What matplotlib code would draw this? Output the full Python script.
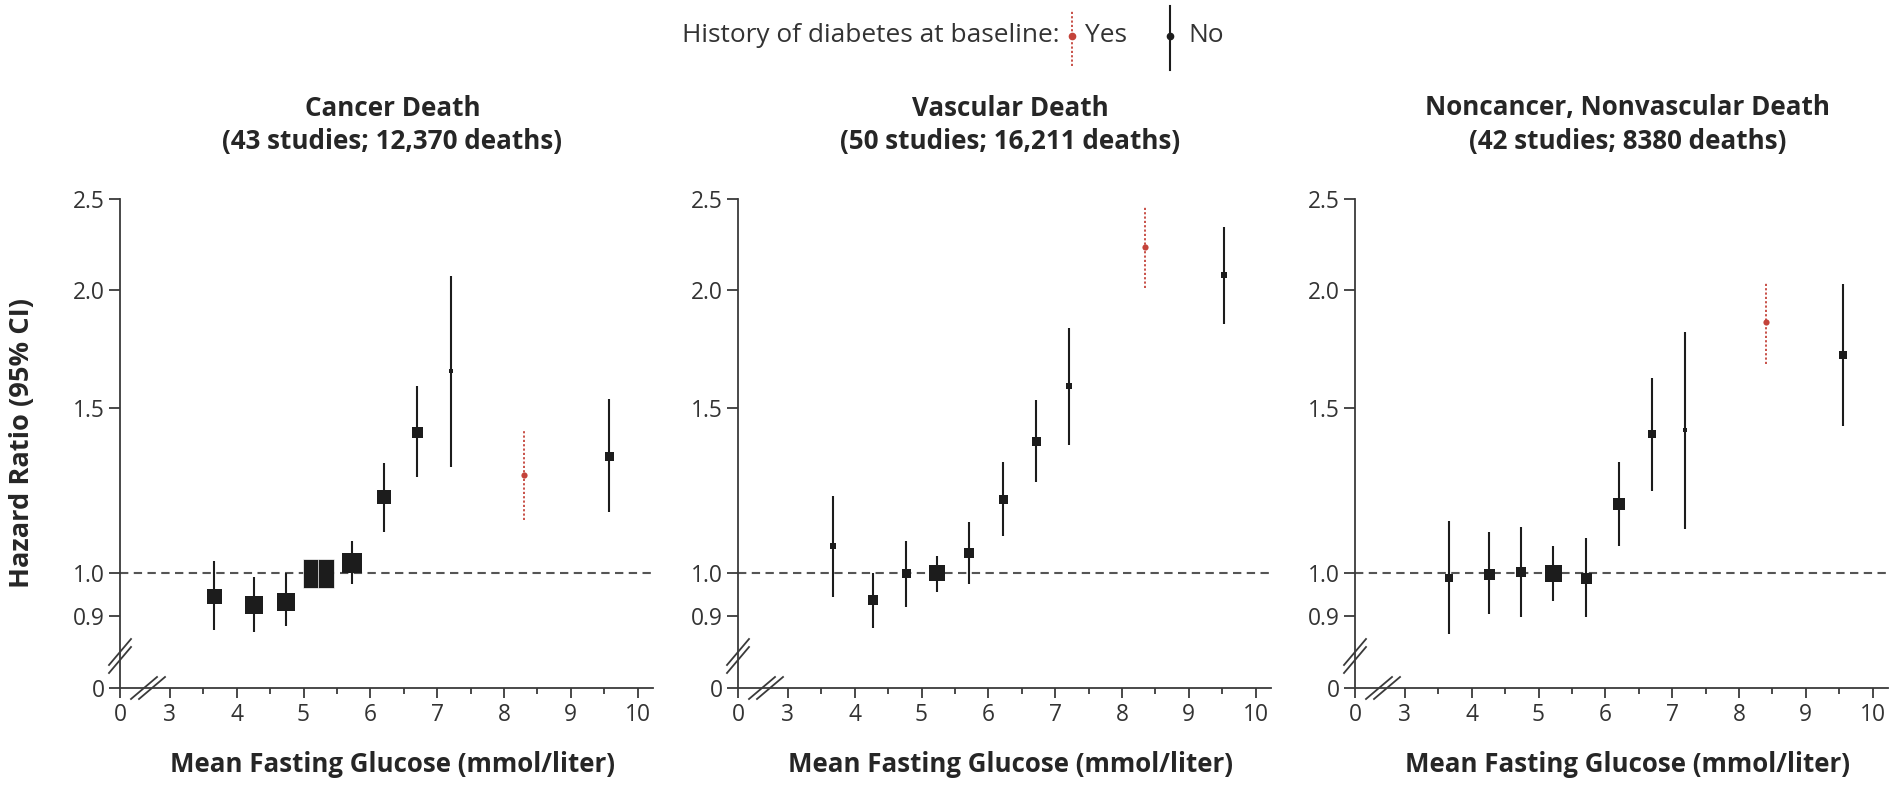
import numpy as np
import matplotlib
matplotlib.use("Agg")
import matplotlib.pyplot as plt
from matplotlib.lines import Line2D
from matplotlib.ticker import NullLocator

plt.rcParams['font.family'] = ['Open Sans', 'DejaVu Sans']

# ---- data (hazard ratio, 95% CI) ----
titles = ["Cancer Death", "Vascular Death", "Noncancer, Nonvascular Death"]
subtitles = ["(43 studies; 12,370 deaths)", "(50 studies; 16,211 deaths)",
             "(42 studies; 8380 deaths)"]

cancer_x = [3.66, 4.26, 4.74, 5.11, 5.33, 5.72, 6.20, 6.70, 7.21, 9.57]
cancer_hr = [0.946, 0.926, 0.933, 1.00, 1.00, 1.026, 1.204, 1.413, 1.640, 1.334]
cancer_lo = [0.871, 0.865, 0.878, 0.975, 0.975, 0.973, 1.107, 1.267, 1.298, 1.162]
cancer_hi = [1.031, 0.990, 1.000, 1.025, 1.025, 1.083, 1.310, 1.582, 2.068, 1.532]
cancer_w = [15, 17.5, 17.5, 29, 29, 20, 13.5, 11, 5, 9]

vasc_x = [3.67, 4.28, 4.76, 5.23, 5.71, 6.22, 6.71, 7.20, 9.53]
vasc_hr = [1.068, 0.937, 1.00, 1.00, 1.050, 1.199, 1.382, 1.582, 2.074]
vasc_lo = [0.944, 0.875, 0.921, 0.956, 0.974, 1.096, 1.249, 1.369, 1.839]
vasc_hi = [1.207, 1.000, 1.083, 1.044, 1.134, 1.314, 1.529, 1.825, 2.333]
vasc_w = [6.5, 10, 9, 16, 10, 9, 9, 6, 6]

other_x = [3.66, 4.26, 4.74, 5.22, 5.71, 6.20, 6.70, 7.19, 9.56]
other_hr = [0.988, 0.998, 1.004, 1.00, 0.988, 1.184, 1.406, 1.420, 1.705]
other_lo = [0.861, 0.904, 0.899, 0.935, 0.899, 1.070, 1.222, 1.114, 1.433]
other_hi = [1.136, 1.107, 1.121, 1.068, 1.089, 1.314, 1.613, 1.806, 2.028]
other_w = [8.6, 11, 9.4, 17, 11, 11.7, 8, 5, 8]

# history of diabetes = yes (one point per panel)
diab_x = [8.30, 8.34, 8.40]
diab_hr = [1.271, 2.225, 1.851]
diab_lo = [1.139, 2.012, 1.669]
diab_hi = [1.415, 2.459, 2.040]

panels = [
    (cancer_x, cancer_hr, cancer_lo, cancer_hi, cancer_w),
    (vasc_x, vasc_hr, vasc_lo, vasc_hi, vasc_w),
    (other_x, other_hr, other_lo, other_hi, other_w),
]

y_ticks = [0.9, 1.0, 1.5, 2.0, 2.5]
y_labels = ["0.9", "1.0", "1.5", "2.0", "2.5"]
x_ticks = [3, 4, 5, 6, 7, 8, 9, 10]

# axis geometry
Y_ZERO = 0.755     # where the "0" label sits (broken axis)
X_ZERO = 2.253
X_MAX = 10.23

W, H = 1891, 788
fig = plt.figure(figsize=(W / 100, H / 100), dpi=100)
renderer = fig.canvas.get_renderer()


def fit_width(t, target_px):
    # scale a text so its rendered width matches the reference
    w = t.get_window_extent(renderer).width
    t.set_fontsize(t.get_fontsize() * target_px / w)
    return t.get_fontsize()


probe = fig.text(0, 0, "2.5", fontsize=16)
tick_fs = fit_width(probe, 32)
probe.remove()

BLACK = "#1c1c1c"
AXC = "#3a3a3a"
RED = "#c4433a"
TXT = "#262626"
WEIGHT = 'bold'

# tall half-width block for the two overlapping largest squares
tall = [(-0.27, -0.5), (0.27, -0.5), (0.27, 0.5), (-0.27, 0.5), (-0.27, -0.5)]

lefts = [120, 738, 1355]
ax_w, bottom, top = 533, 688, 199
title_fs = None

for i, (xs, hr, lo, hi, wpx) in enumerate(panels):
    ax = fig.add_axes([lefts[i] / W, 1 - bottom / H, ax_w / W, (bottom - top) / H])
    ax.set_yscale('log')
    ax.set_ylim(Y_ZERO, 2.5)
    ax.set_xlim(X_ZERO, X_MAX)

    ax.axhline(1.0, color="#555555", lw=1.5, ls=(0, (4, 2.6)), zorder=1)

    # no diabetes at baseline
    ax.vlines(xs, lo, hi, color=BLACK, lw=1.5, zorder=2)
    for x, y, w in zip(xs, hr, wpx):
        if w >= 25:
            ax.scatter([x], [y], s=(w * 0.72) ** 2, marker=tall, color=BLACK,
                       edgecolors='white', linewidths=0.5, zorder=3)
        else:
            ax.scatter([x], [y], s=(w * 0.72) ** 2, marker='s', color=BLACK,
                       linewidths=0, zorder=3)

    # diabetes at baseline
    ax.vlines([diab_x[i]], [diab_lo[i]], [diab_hi[i]], color=RED, lw=1.3,
              linestyles=[(0, (1.2, 1.2))], zorder=2)
    ax.scatter([diab_x[i]], [diab_hr[i]], s=20, marker='o', color=RED,
               linewidths=0, zorder=3)

    for s in ['top', 'right']:
        ax.spines[s].set_visible(False)
    for s in ['left', 'bottom']:
        ax.spines[s].set_color(AXC)
        ax.spines[s].set_linewidth(1.3)

    ax.yaxis.set_minor_locator(NullLocator())
    ax.set_yticks([Y_ZERO] + y_ticks)
    ax.set_yticklabels(["0"] + y_labels)
    ax.set_xticks([X_ZERO] + x_ticks)
    ax.set_xticklabels(["0"] + [str(t) for t in x_ticks])
    ax.set_xticks([t + 0.5 for t in x_ticks[:-1]], minor=True)
    ax.tick_params(axis='y', which='major', length=8, width=1.3, color=AXC,
                   pad=3, labelsize=tick_fs, labelcolor="#333333")
    ax.tick_params(axis='x', which='major', length=7, width=1.3, color=AXC,
                   pad=4, labelsize=tick_fs, labelcolor="#333333")
    ax.tick_params(axis='x', which='minor', length=4.5, width=1.3, color=AXC)

    # axis break marks (axes fraction, px converted)
    hpx = bottom - top
    yb = 32 / hpx
    for off in (-4, 4):
        ax.add_line(Line2D([-11 / ax_w, 11 / ax_w],
                           [yb + (off - 13) / hpx, yb + (off + 13) / hpx],
                           transform=ax.transAxes, color=AXC, lw=1.3,
                           clip_on=False))
    xb = 28 / ax_w
    for off in (-4, 4):
        ax.add_line(Line2D([xb + (off - 13) / ax_w, xb + (off + 13) / ax_w],
                           [-11 / hpx, 11 / hpx],
                           transform=ax.transAxes, color=AXC, lw=1.3,
                           clip_on=False))

    cx = (lefts[i] + ax_w / 2 + 6) / W
    t2 = fig.text(cx, 1 - 142 / H, subtitles[i], ha='center', va='center',
                  fontsize=17, fontweight=WEIGHT, color=TXT)
    if title_fs is None:
        title_fs = fit_width(t2, 340)
    t2.set_fontsize(title_fs)
    fig.text(cx, 1 - 108 / H, titles[i], ha='center', va='center',
             fontsize=title_fs, fontweight=WEIGHT, color=TXT)
    xl = fig.text(cx, 1 - 765 / H, "Mean Fasting Glucose (mmol/liter)",
                  ha='center', va='center', fontsize=17, fontweight=WEIGHT,
                  color=TXT)
    fit_width(xl, 445)

yl = fig.text(22 / W, 1 - 443 / H, "Hazard Ratio (95% CI)", rotation=90,
              ha='center', va='center', fontsize=17, fontweight=WEIGHT,
              color=TXT)
yl.set_fontsize(17 * 290 / yl.get_window_extent(renderer).height)

# legend at the top
ly = 1 - 36 / H
lt = fig.text(1059 / W, ly, "History of diabetes at baseline:", ha='right',
              va='center', fontsize=17, color="#333333")
leg_fs = fit_width(lt, 377)
fig.add_artist(Line2D([1072 / W] * 2, [1 - 66 / H, 1 - 10 / H], color=RED,
                      lw=1.3, ls=(0, (1.2, 1.2))))
fig.add_artist(Line2D([1072 / W], [ly], marker='o', ms=4.5, color=RED, lw=0))
fig.text(1085 / W, ly, "Yes", ha='left', va='center', fontsize=leg_fs,
         color="#333333")
fig.add_artist(Line2D([1170 / W] * 2, [1 - 70 / H, 1 - 6 / H], color=BLACK,
                      lw=1.5))
fig.add_artist(Line2D([1170 / W], [ly], marker='o', ms=4.5, color=BLACK, lw=0))
fig.text(1188 / W, ly, "No", ha='left', va='center', fontsize=leg_fs,
         color="#333333")

fig.savefig("out.png", dpi=100, facecolor="white")
